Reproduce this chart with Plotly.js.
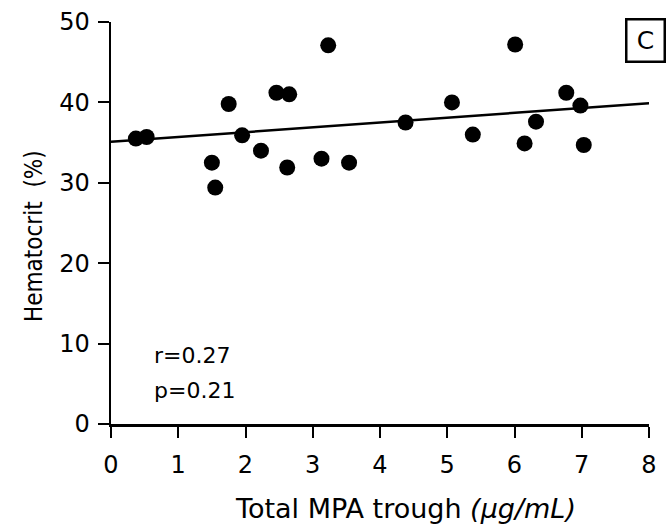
<!DOCTYPE html>
<html>
<head>
<meta charset="utf-8">
<script src="https://cdn.plot.ly/plotly-3.0.1.min.js"></script>
<style>html,body{margin:0;padding:0;background:#fff;}#chart{width:667px;height:531px;}</style>
</head>
<body>
<div id="chart"></div>
<script>
// Data
const mpaTrough = [0.37, 0.53, 1.50, 1.55, 1.75, 1.95, 2.23, 2.46, 2.65, 2.62, 3.13, 3.23,
                   3.54, 4.38, 5.07, 5.38, 6.01, 6.15, 6.32, 6.77, 6.98, 7.03];
const hematocrit = [35.5, 35.7, 32.5, 29.4, 39.8, 35.9, 34.0, 41.2, 41.0, 31.9, 33.0, 47.1,
                    32.5, 37.5, 40.0, 36.0, 47.2, 34.9, 37.6, 41.2, 39.6, 34.7];
const fitX = [0, 8];
const fitY = [35.1, 39.9];
const xTicks = [0, 1, 2, 3, 4, 5, 6, 7, 8];
const yTicks = [0, 10, 20, 30, 40, 50];
const statsText = ["r=0.27", "p=0.21"];
const panelLabel = "C";
const xTitle = "Total MPA trough <i>(μg/mL)</i>";
const yTitle = "Hematocrit  (%)";

const font = "DejaVu Sans, Verdana, sans-serif";
const condensed = "DejaVu Sans Condensed, DejaVu Sans, sans-serif";

// plot area in pixels: x 111..649, y 22..424
const px = v => (v - 111) / 538;
const py = v => (424 - v) / 402;

const traces = [
  {
    x: fitX, y: fitY, mode: "lines", type: "scatter",
    line: {color: "#000", width: 2.5}, hoverinfo: "skip", showlegend: false, cliponaxis: false
  },
  {
    x: mpaTrough, y: hematocrit, mode: "markers", type: "scatter",
    marker: {color: "#000", size: 16, line: {width: 0}}, showlegend: false, cliponaxis: false
  }
];

const layout = {
  width: 667, height: 531,
  margin: {l: 111, r: 18, t: 22, b: 107},
  paper_bgcolor: "#fff", plot_bgcolor: "#fff",
  font: {family: font, color: "#000", size: 23},
  showlegend: false,
  xaxis: {
    range: [0, 8], tickvals: xTicks, ticktext: xTicks.map(String),
    showgrid: false, zeroline: false, showline: true, linecolor: "#000", linewidth: 2.5,
    ticks: "outside", ticklen: 11, tickwidth: 2, tickcolor: "#000",
    ticklabelstandoff: 7,
    tickfont: {size: 24, family: font},
    fixedrange: true
  },
  yaxis: {
    range: [0, 50], tickvals: yTicks, ticktext: yTicks.map(String),
    showgrid: false, zeroline: false, showline: true, linecolor: "#000", linewidth: 2.5,
    ticks: "outside", ticklen: 11, tickwidth: 2, tickcolor: "#000",
    ticklabelstandoff: 3,
    tickfont: {size: 24, family: font},
    fixedrange: true
  },
  annotations: [
    {xref: "paper", yref: "paper", x: px(405), y: py(508), xanchor: "center", yanchor: "middle",
     text: xTitle, showarrow: false, font: {size: 27, family: font}},
    {xref: "paper", yref: "paper", x: px(34), y: py(236), xanchor: "center", yanchor: "middle",
     text: yTitle, textangle: -90, showarrow: false, font: {size: 24, family: condensed}},
    {xref: "paper", yref: "paper", x: px(152), y: py(355), xanchor: "left", yanchor: "middle",
     text: statsText[0], showarrow: false, font: {size: 22, family: font}},
    {xref: "paper", yref: "paper", x: px(152), y: py(390), xanchor: "left", yanchor: "middle",
     text: statsText[1], showarrow: false, font: {size: 22, family: font}},
    {xref: "paper", yref: "paper", x: px(645.5), y: py(41), xanchor: "center", yanchor: "middle",
     text: panelLabel, showarrow: false, font: {size: 25, family: font},
     bordercolor: "#000", borderwidth: 2.5, borderpad: 0, width: 36, height: 40, bgcolor: "#fff"}
  ]
};

Plotly.newPlot("chart", traces, layout, {displayModeBar: false, staticPlot: true});
</script>
</body>
</html>
